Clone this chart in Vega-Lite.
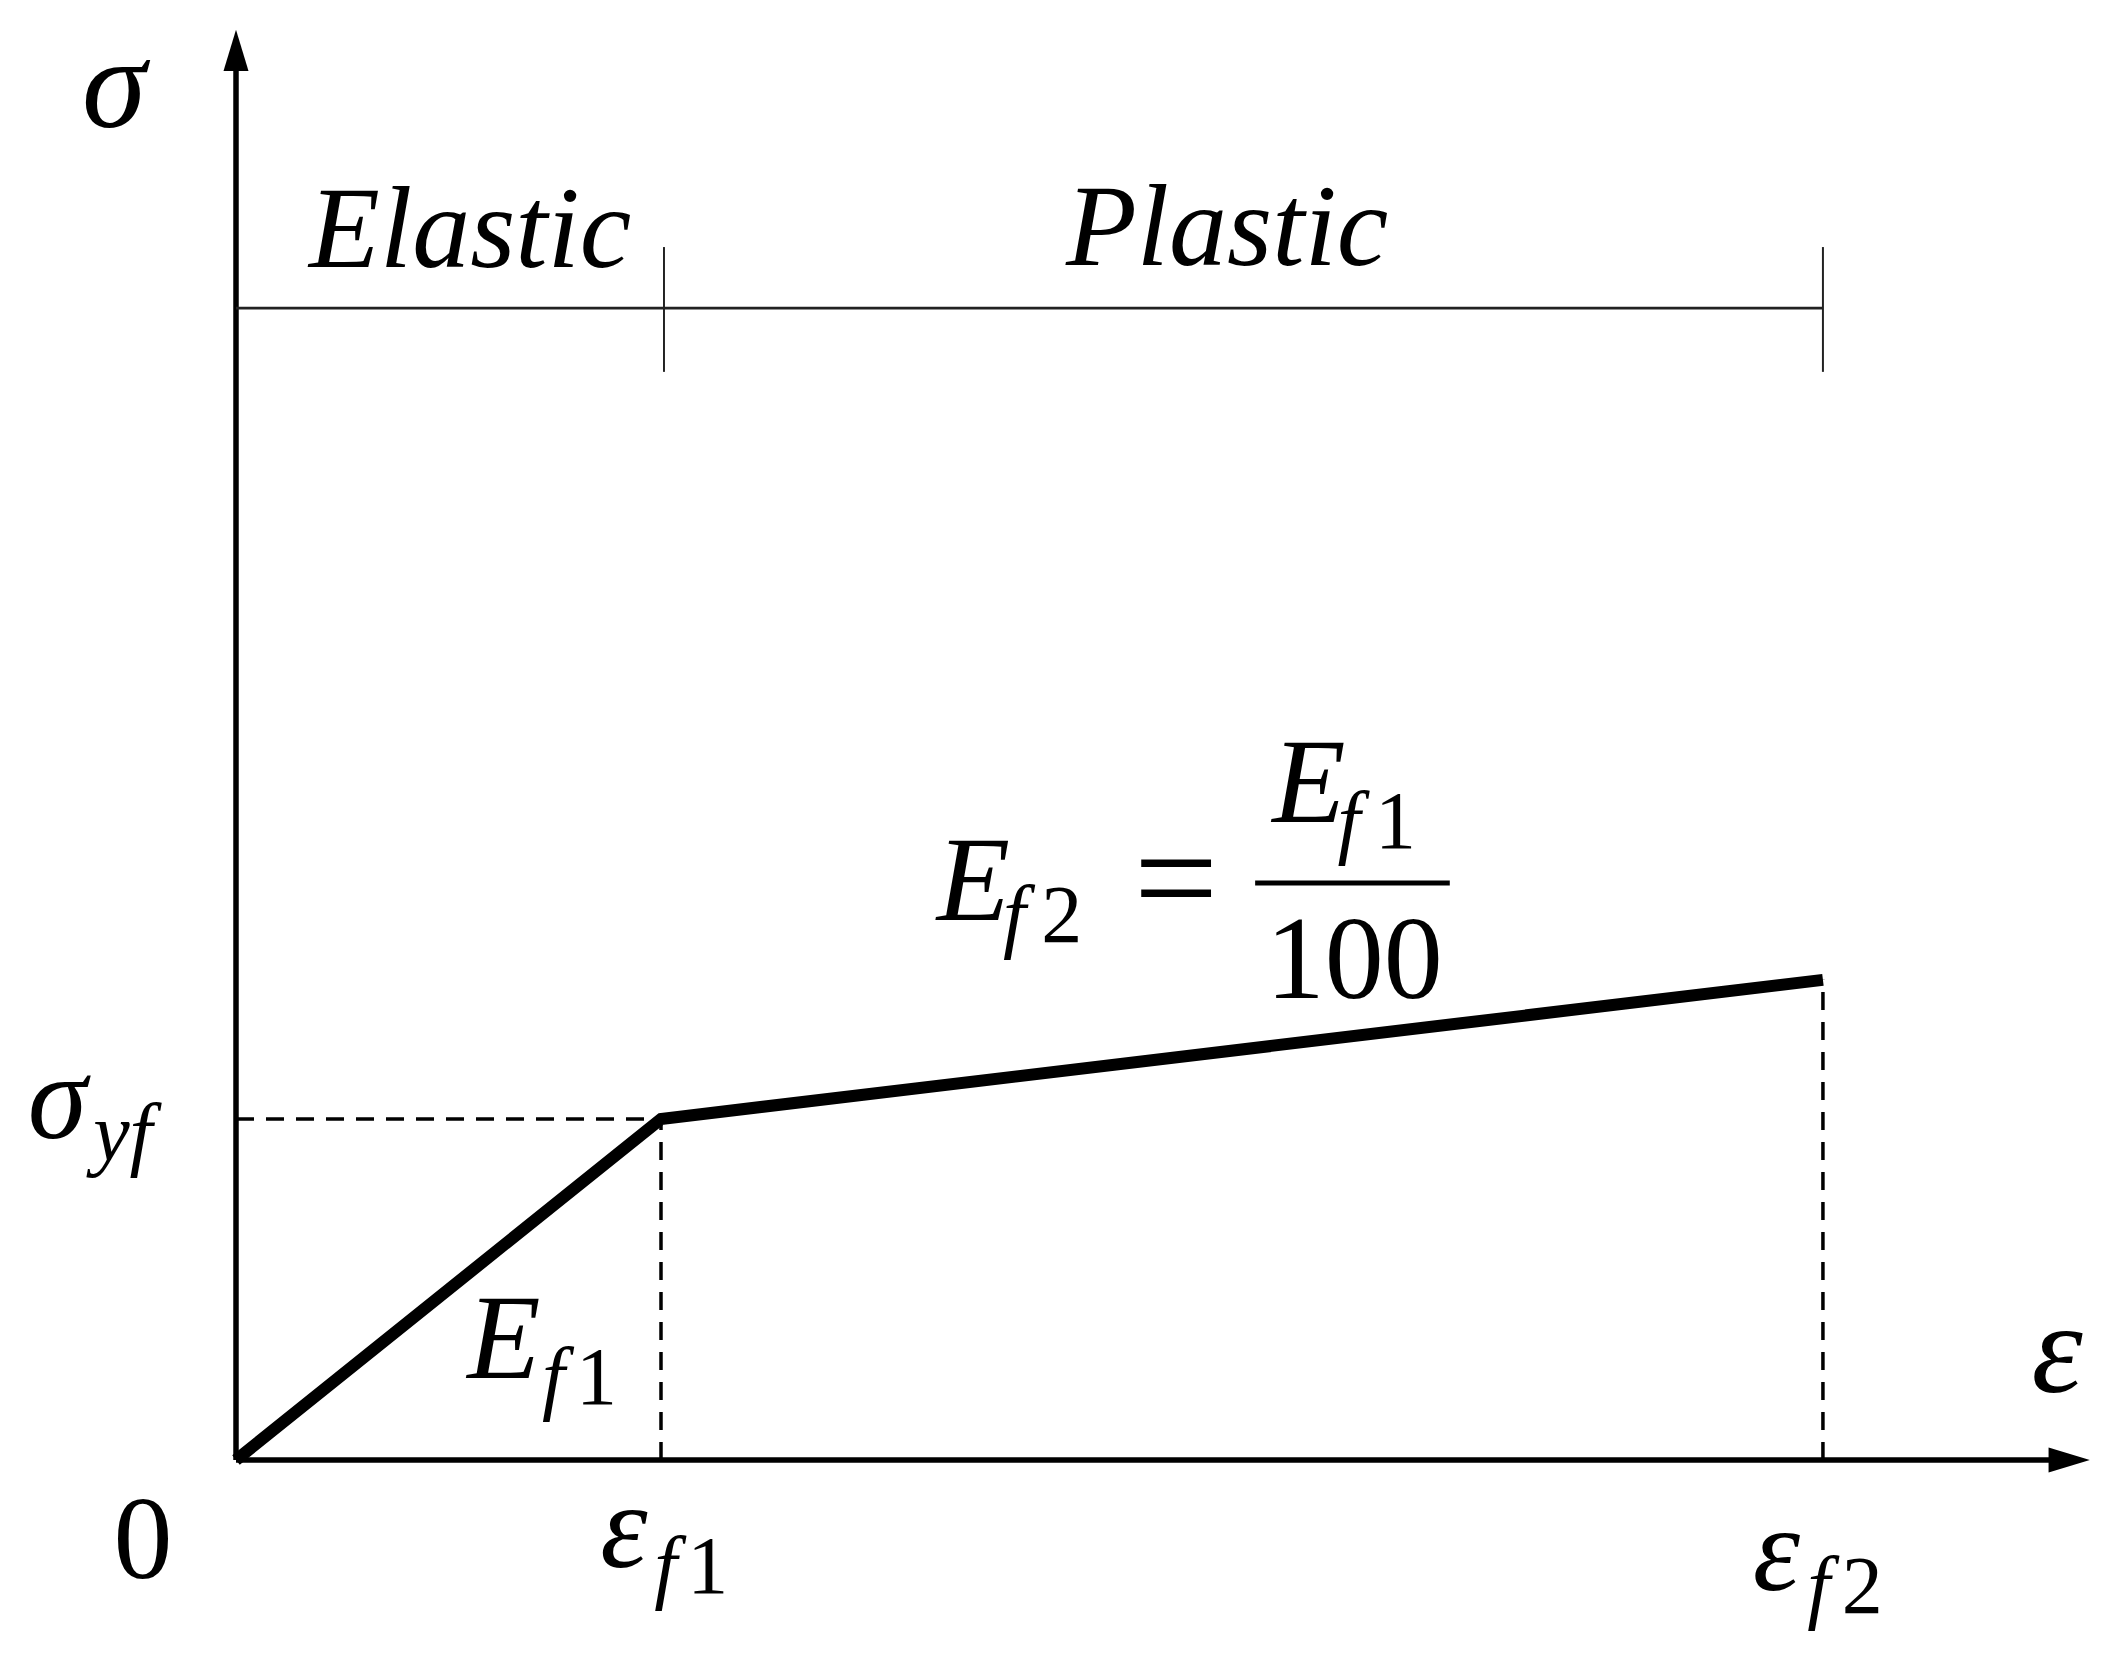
{
  "$schema": "https://vega.github.io/schema/vega-lite/v6.json",
  "width": 2126,
  "height": 1663,
  "autosize": {"type": "fit", "contains": "padding"},
  "padding": 0,
  "background": "white",
  "config": {"view": {"stroke": null}},
  "datasets": {
    "segments": [
      {"x": 0, "y": 0, "x2": 0, "y2": 4.1, "k": "axis"},
      {"x": 0, "y": 0, "x2": 4.29, "y2": 0, "k": "axis"},
      {"x": 0, "y": 3.378, "x2": 3.734, "y2": 3.378, "k": "divider"},
      {"x": 1.007, "y": 3.191, "x2": 1.007, "y2": 3.557, "k": "tick"},
      {"x": 3.734, "y": 3.191, "x2": 3.734, "y2": 3.557, "k": "tick"},
      {"x": 0, "y": 1, "x2": 1, "y2": 1, "k": "guide"},
      {"x": 1, "y": 0, "x2": 1, "y2": 1, "k": "guide"},
      {"x": 3.734, "y": 0, "x2": 3.734, "y2": 1.408, "k": "guide"},
      {"x": 2.398, "y": 1.692, "x2": 2.856, "y2": 1.692, "k": "bar"}
    ],
    "curve": [
      {"x": 0, "y": 0},
      {"x": 1, "y": 1},
      {"x": 3.734, "y": 1.408}
    ],
    "arrows": [
      {"x": 0, "y": 4.194, "k": "up"},
      {"x": 4.362, "y": 0, "k": "right"}
    ],
    "labels": [
      {"t": "Elastic", "x": 0.551, "y": 3.499, "k": "region"},
      {"t": "Plastic", "x": 2.332, "y": 3.504, "k": "region"},
      {"t": "σ", "x": -0.287, "y": 3.909, "k": "axislabel"},
      {"t": "ε", "x": 4.285, "y": 0.199, "k": "axislabel"},
      {"t": "0", "x": -0.219, "y": -0.346, "k": "num"},
      {"t": "100", "x": 2.631, "y": 1.355, "k": "num"},
      {"t": "=", "x": 2.212, "y": 1.692, "k": "op"},
      {"t": "σ", "x": -0.49, "y": 0.944, "k": "sym"},
      {"t": "E", "x": 0.544, "y": 0.24, "k": "sym"},
      {"t": "ε", "x": 0.857, "y": -0.314, "k": "sym"},
      {"t": "ε", "x": 3.569, "y": -0.381, "k": "sym"},
      {"t": "E", "x": 1.649, "y": 1.584, "k": "sym"},
      {"t": "E", "x": 2.438, "y": 1.871, "k": "sym"},
      {"t": "yf", "x": -0.336, "y": 0.88, "k": "sub"},
      {"t": "f", "x": 0.72, "y": 0.164, "k": "sub"},
      {"t": "f", "x": 0.984, "y": -0.39, "k": "sub"},
      {"t": "f", "x": 3.697, "y": -0.449, "k": "sub"},
      {"t": "f", "x": 1.805, "y": 1.519, "k": "sub"},
      {"t": "f", "x": 2.592, "y": 1.795, "k": "sub"},
      {"t": "1", "x": 0.8, "y": 0.164, "k": "subnum"},
      {"t": "1", "x": 1.062, "y": -0.39, "k": "subnum"},
      {"t": "2", "x": 3.778, "y": -0.449, "k": "subnum"},
      {"t": "2", "x": 1.895, "y": 1.519, "k": "subnum"},
      {"t": "1", "x": 2.68, "y": 1.795, "k": "subnum"}
    ]
  },
  "layer": [
    {
      "data": {"name": "segments"},
      "transform": [{"filter": "datum.k === 'guide'"}],
      "mark": {"type": "rule", "color": "black", "strokeWidth": 3.5, "strokeDash": [18, 12]},
      "encoding": {
        "x": {"field": "x", "type": "quantitative", "scale": {"domain": [-0.5553, 4.4471], "nice": false, "zero": false}, "axis": null},
        "y": {"field": "y", "type": "quantitative", "scale": {"domain": [-0.5953, 4.2815], "nice": false, "zero": false}, "axis": null},
        "x2": {"field": "x2"},
        "y2": {"field": "y2"}
      }
    },
    {
      "data": {"name": "segments"},
      "transform": [{"filter": "datum.k === 'axis'"}],
      "mark": {"type": "rule", "color": "black", "strokeWidth": 5.5},
      "encoding": {
        "x": {"field": "x", "type": "quantitative", "scale": {"domain": [-0.5553, 4.4471], "nice": false, "zero": false}, "axis": null},
        "y": {"field": "y", "type": "quantitative", "scale": {"domain": [-0.5953, 4.2815], "nice": false, "zero": false}, "axis": null},
        "x2": {"field": "x2"},
        "y2": {"field": "y2"}
      }
    },
    {
      "data": {"name": "segments"},
      "transform": [{"filter": "datum.k === 'divider'"}],
      "mark": {"type": "rule", "color": "#222", "strokeWidth": 2.8},
      "encoding": {
        "x": {"field": "x", "type": "quantitative", "scale": {"domain": [-0.5553, 4.4471], "nice": false, "zero": false}, "axis": null},
        "y": {"field": "y", "type": "quantitative", "scale": {"domain": [-0.5953, 4.2815], "nice": false, "zero": false}, "axis": null},
        "x2": {"field": "x2"},
        "y2": {"field": "y2"}
      }
    },
    {
      "data": {"name": "segments"},
      "transform": [{"filter": "datum.k === 'tick'"}],
      "mark": {"type": "rule", "color": "#222", "strokeWidth": 2},
      "encoding": {
        "x": {"field": "x", "type": "quantitative", "scale": {"domain": [-0.5553, 4.4471], "nice": false, "zero": false}, "axis": null},
        "y": {"field": "y", "type": "quantitative", "scale": {"domain": [-0.5953, 4.2815], "nice": false, "zero": false}, "axis": null},
        "x2": {"field": "x2"},
        "y2": {"field": "y2"}
      }
    },
    {
      "data": {"name": "segments"},
      "transform": [{"filter": "datum.k === 'bar'"}],
      "mark": {"type": "rule", "color": "black", "strokeWidth": 5},
      "encoding": {
        "x": {"field": "x", "type": "quantitative", "scale": {"domain": [-0.5553, 4.4471], "nice": false, "zero": false}, "axis": null},
        "y": {"field": "y", "type": "quantitative", "scale": {"domain": [-0.5953, 4.2815], "nice": false, "zero": false}, "axis": null},
        "x2": {"field": "x2"},
        "y2": {"field": "y2"}
      }
    },
    {
      "data": {"name": "curve"},
      "mark": {"type": "line", "color": "black", "strokeWidth": 12, "strokeJoin": "miter", "strokeCap": "butt"},
      "encoding": {
        "x": {"field": "x", "type": "quantitative", "scale": {"domain": [-0.5553, 4.4471], "nice": false, "zero": false}, "axis": null},
        "y": {"field": "y", "type": "quantitative", "scale": {"domain": [-0.5953, 4.2815], "nice": false, "zero": false}, "axis": null}
      }
    },
    {
      "data": {"name": "arrows"},
      "transform": [{"filter": "datum.k === 'up'"}],
      "mark": {"type": "point", "shape": "M0,0L0.5,1.65L-0.5,1.65Z", "size": 2500, "filled": true, "color": "black", "opacity": 1},
      "encoding": {
        "x": {"field": "x", "type": "quantitative", "scale": {"domain": [-0.5553, 4.4471], "nice": false, "zero": false}, "axis": null},
        "y": {"field": "y", "type": "quantitative", "scale": {"domain": [-0.5953, 4.2815], "nice": false, "zero": false}, "axis": null}
      }
    },
    {
      "data": {"name": "arrows"},
      "transform": [{"filter": "datum.k === 'right'"}],
      "mark": {"type": "point", "shape": "M0,0L-1.65,-0.5L-1.65,0.5Z", "size": 2500, "filled": true, "color": "black", "opacity": 1},
      "encoding": {
        "x": {"field": "x", "type": "quantitative", "scale": {"domain": [-0.5553, 4.4471], "nice": false, "zero": false}, "axis": null},
        "y": {"field": "y", "type": "quantitative", "scale": {"domain": [-0.5953, 4.2815], "nice": false, "zero": false}, "axis": null}
      }
    },
    {
      "data": {"name": "labels"},
      "transform": [{"filter": "datum.k === 'region'"}],
      "mark": {"type": "text", "font": "Liberation Serif", "fontStyle": "italic", "fontSize": 116, "align": "center", "baseline": "alphabetic", "color": "black"},
      "encoding": {
        "x": {"field": "x", "type": "quantitative", "scale": {"domain": [-0.5553, 4.4471], "nice": false, "zero": false}, "axis": null},
        "y": {"field": "y", "type": "quantitative", "scale": {"domain": [-0.5953, 4.2815], "nice": false, "zero": false}, "axis": null},
        "text": {"field": "t"}
      }
    },
    {
      "data": {"name": "labels"},
      "transform": [{"filter": "datum.k === 'axislabel'"}],
      "mark": {"type": "text", "font": "Liberation Serif", "fontStyle": "italic", "fontSize": 130, "align": "center", "baseline": "alphabetic", "color": "black"},
      "encoding": {
        "x": {"field": "x", "type": "quantitative", "scale": {"domain": [-0.5553, 4.4471], "nice": false, "zero": false}, "axis": null},
        "y": {"field": "y", "type": "quantitative", "scale": {"domain": [-0.5953, 4.2815], "nice": false, "zero": false}, "axis": null},
        "text": {"field": "t"}
      }
    },
    {
      "data": {"name": "labels"},
      "transform": [{"filter": "datum.k === 'num'"}],
      "mark": {"type": "text", "font": "Liberation Serif", "fontSize": 118, "align": "center", "baseline": "alphabetic", "color": "black"},
      "encoding": {
        "x": {"field": "x", "type": "quantitative", "scale": {"domain": [-0.5553, 4.4471], "nice": false, "zero": false}, "axis": null},
        "y": {"field": "y", "type": "quantitative", "scale": {"domain": [-0.5953, 4.2815], "nice": false, "zero": false}, "axis": null},
        "text": {"field": "t"}
      }
    },
    {
      "data": {"name": "labels"},
      "transform": [{"filter": "datum.k === 'op'"}],
      "mark": {"type": "text", "font": "Liberation Serif", "fontSize": 150, "align": "center", "baseline": "middle", "color": "black"},
      "encoding": {
        "x": {"field": "x", "type": "quantitative", "scale": {"domain": [-0.5553, 4.4471], "nice": false, "zero": false}, "axis": null},
        "y": {"field": "y", "type": "quantitative", "scale": {"domain": [-0.5953, 4.2815], "nice": false, "zero": false}, "axis": null},
        "text": {"field": "t"}
      }
    },
    {
      "data": {"name": "labels"},
      "transform": [{"filter": "datum.k === 'sym'"}],
      "mark": {"type": "text", "font": "Liberation Serif", "fontStyle": "italic", "fontSize": 120, "align": "left", "baseline": "alphabetic", "color": "black"},
      "encoding": {
        "x": {"field": "x", "type": "quantitative", "scale": {"domain": [-0.5553, 4.4471], "nice": false, "zero": false}, "axis": null},
        "y": {"field": "y", "type": "quantitative", "scale": {"domain": [-0.5953, 4.2815], "nice": false, "zero": false}, "axis": null},
        "text": {"field": "t"}
      }
    },
    {
      "data": {"name": "labels"},
      "transform": [{"filter": "datum.k === 'sub'"}],
      "mark": {"type": "text", "font": "Liberation Serif", "fontStyle": "italic", "fontSize": 82, "align": "left", "baseline": "alphabetic", "color": "black"},
      "encoding": {
        "x": {"field": "x", "type": "quantitative", "scale": {"domain": [-0.5553, 4.4471], "nice": false, "zero": false}, "axis": null},
        "y": {"field": "y", "type": "quantitative", "scale": {"domain": [-0.5953, 4.2815], "nice": false, "zero": false}, "axis": null},
        "text": {"field": "t"}
      }
    },
    {
      "data": {"name": "labels"},
      "transform": [{"filter": "datum.k === 'subnum'"}],
      "mark": {"type": "text", "font": "Liberation Serif", "fontSize": 82, "align": "left", "baseline": "alphabetic", "color": "black"},
      "encoding": {
        "x": {"field": "x", "type": "quantitative", "scale": {"domain": [-0.5553, 4.4471], "nice": false, "zero": false}, "axis": null},
        "y": {"field": "y", "type": "quantitative", "scale": {"domain": [-0.5953, 4.2815], "nice": false, "zero": false}, "axis": null},
        "text": {"field": "t"}
      }
    }
  ]
}
